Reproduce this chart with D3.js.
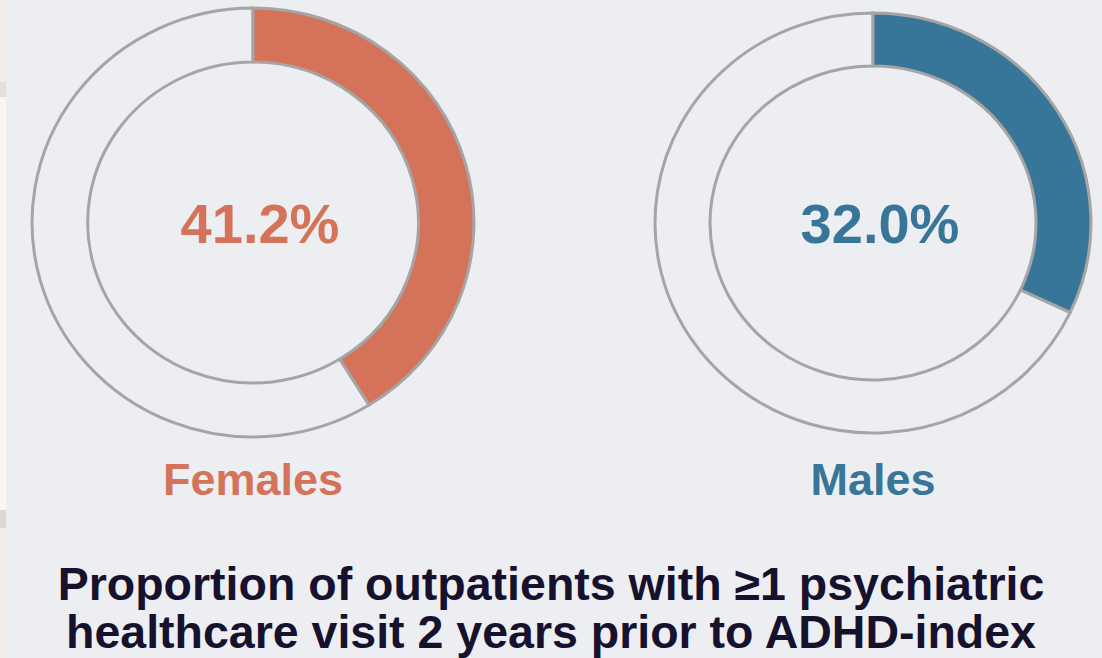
<!DOCTYPE html>
<html>
    <head>
        <meta charset="utf-8">
        <title>Psychiatric healthcare visits before ADHD index</title>
        <script src="https://d3js.org/d3.v7.min.js" charset="utf-8"></script>
        <style>
            body { margin: 0; background: #edeef2; }
        </style>
    </head>
    <body>
        <script>
            var width_SVG = 1102;
            var height_SVG = 658;

            // data
            var groups = ["Females", "Males"];
            var percents = [41.2, 32.0];
            var titleLines = ["Proportion of outpatients with \u22651 psychiatric",
                              "healthcare visit 2 years prior to ADHD-index"];

            // layout per donut (the picture is a little stretched sideways)
            var centersX = [253, 873];
            var centersY = [222.5, 223];
            var outerR = [214.5, 210];
            var innerR = [160.5, 157];
            var stretchX = [1.03, 1.038];
            var colors = ["#d5735a", "#387699"];

            var svg = d3.select("body")
                        .append("svg")
                        .attr("width", width_SVG)
                        .attr("height", height_SVG)
                        .style("display", "block")
                        .style("background", "#edeef2");

            // thin strip of the page edge on the left
            var strip = [[0, 82, "#f3eee8"], [82, 97, "#e6e0d8"], [97, 510, "#faf7f2"],
                         [510, 528, "#dcd8d2"], [528, 658, "#f3eee8"]];
            svg.selectAll("rect.strip")
                .data(strip)
                .enter()
                .append("rect")
                .attr("class", "strip")
                .attr("x", 0)
                .attr("y", d => d[0])
                .attr("width", 6)
                .attr("height", d => d[1] - d[0])
                .style("fill", d => d[2]);

            var pct = d3.scaleLinear().domain([0, 100]).range([0, 2 * Math.PI]);

            var donuts = svg.selectAll("g.donut")
                .data(groups)
                .enter()
                .append("g")
                .attr("class", "donut");

            donuts.each(function(name, i) {
                var g = d3.select(this);
                var arc = d3.arc().innerRadius(innerR[i]).outerRadius(outerR[i]);
                var ring = g.append("g")
                    .attr("transform", "translate(" + centersX[i] + "," + centersY[i] + ") scale(" + stretchX[i] + ",1)");

                ring.append("path")
                    .attr("d", arc({startAngle: pct(percents[i]), endAngle: pct(100)}))
                    .style("fill", "#edeef2")
                    .style("stroke", "#a5a5a5")
                    .style("stroke-width", 3)
                    .attr("vector-effect", "non-scaling-stroke");

                ring.append("path")
                    .attr("d", arc({startAngle: 0, endAngle: pct(percents[i])}))
                    .style("fill", colors[i])
                    .style("stroke", "#a5a5a5")
                    .style("stroke-width", 3)
                    .attr("vector-effect", "non-scaling-stroke");

                g.append("text")
                    .attr("x", centersX[i] + 7)
                    .attr("y", 243)
                    .attr("text-anchor", "middle")
                    .style("font-family", "'Liberation Sans', Arial, sans-serif")
                    .style("font-weight", "bold")
                    .style("font-size", "56px")
                    .style("fill", colors[i])
                    .text(d3.format(".1f")(percents[i]) + "%");

                g.append("text")
                    .attr("x", centersX[i])
                    .attr("y", 495)
                    .attr("text-anchor", "middle")
                    .style("font-family", "'Liberation Sans', Arial, sans-serif")
                    .style("font-weight", "bold")
                    .style("font-size", "45px")
                    .style("fill", colors[i])
                    .text(name);
            });

            svg.selectAll("text.title")
                .data(titleLines)
                .enter()
                .append("text")
                .attr("class", "title")
                .attr("x", 551)
                .attr("y", (d, i) => 600 + i * 48)
                .attr("text-anchor", "middle")
                .style("font-family", "'Liberation Sans', Arial, sans-serif")
                .style("font-weight", "bold")
                .style("font-size", "46.5px")
                .style("fill", "#16122e")
                .text(d => d);
        </script>
    </body>
</html>
